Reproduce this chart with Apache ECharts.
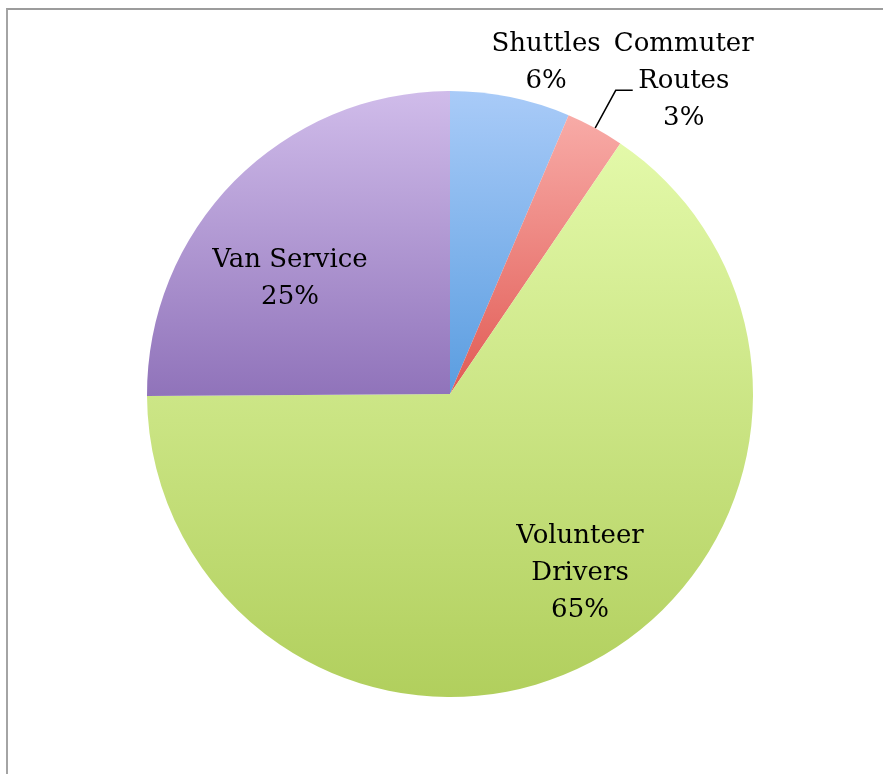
<!DOCTYPE html>
<html>
<head>
<meta charset="utf-8">
<script src="https://cdn.jsdelivr.net/npm/echarts@6/dist/echarts.min.js"></script>
<style>
    html, body { margin: 0; padding: 0; background: #fff; }
    .wrap { position: relative; width: 883px; height: 774px; }
    .frame {
        position: absolute; left: 6px; top: 8px; right: 0; bottom: 0;
        border-top: 2px solid #9c9c9c; border-left: 2px solid #a4a4a4;
        pointer-events: none;
    }
    .echarts { position: absolute; left: 0; top: 0; width: 883px; height: 774px; }
</style>
</head>
<body>
<div class="wrap">
    <div ref="myEcharts" id="main" class="echarts"></div>
    <div class="frame"></div>
</div>
<script>
    // slices, clockwise from 12 o'clock
    var names = ['Shuttles', 'Commuter\nRoutes', 'Volunteer\nDrivers', 'Van Service']
    var values = [6.4, 3.1, 65.4, 25.1]
    var pctLabels = ['6%', '3%', '65%', '25%']

    // top / bottom colours of each slice's vertical gradient
    var topColors = ['#a9cbf8', '#f8aba7', '#e3f9a9', '#d0bcea']
    var bottomColors = ['#5a9de0', '#e15b54', '#b1cf5d', '#9073ba']

    var cx = 450
    var cy = 394
    var R = 303

    // label block centres, as offsets from the pie centre (Commuter uses its leader line)
    var labelOffsets = {
        0: [96, -331],
        2: [130, 179],
        3: [-160, -115]
    }

    var data = names.map(function (n, i) {
        var item = {
            name: n,
            value: values[i],
            itemStyle: {
                color: {
                    type: 'linear', x: 0, y: 0, x2: 0, y2: 1,
                    colorStops: [
                        { offset: 0, color: topColors[i] },
                        { offset: 1, color: bottomColors[i] }
                    ]
                }
            }
        }
        if (i === 1) {
            item.label = { position: 'outside' }
            item.labelLine = { show: true }
        } else {
            item.label = { position: 'inside' }
            item.labelLine = { show: false }
        }
        return item
    })

    var myChart = echarts.init(document.getElementById('main'))
    var option = {
        animation: false,
        series: [{
            type: 'pie',
            center: [cx, cy],
            radius: R,
            startAngle: 90,
            clockwise: true,
            avoidLabelOverlap: false,
            data: data,
            itemStyle: { borderWidth: 0 },
            label: {
                show: true,
                color: '#000',
                fontFamily: 'DejaVu Serif',
                fontSize: 26,
                lineHeight: 37,
                distanceToLabelLine: -19,
                formatter: function (p) {
                    var lines = (p.name + '\n' + pctLabels[p.dataIndex]).split('\n')
                    return lines.map(function (l) { return '{c|' + l + '}' }).join('\n')
                },
                rich: {
                    c: {
                        width: 140,
                        align: 'center',
                        color: '#000',
                        fontFamily: 'DejaVu Serif',
                        fontSize: 26,
                        lineHeight: 37
                    }
                }
            },
            labelLine: {
                length: 43,
                length2: 17,
                lineStyle: { color: '#000', width: 1.5 }
            },
            labelLayout: function (p) {
                var off = labelOffsets[p.dataIndex]
                if (!off) {
                    // shift the commuter block up a little above its leader line
                    return { dy: -9 }
                }
                return {
                    x: cx + off[0],
                    y: cy + off[1],
                    align: 'center',
                    verticalAlign: 'middle'
                }
            }
        }]
    }
    myChart.setOption(option)
</script>
</body>
</html>
